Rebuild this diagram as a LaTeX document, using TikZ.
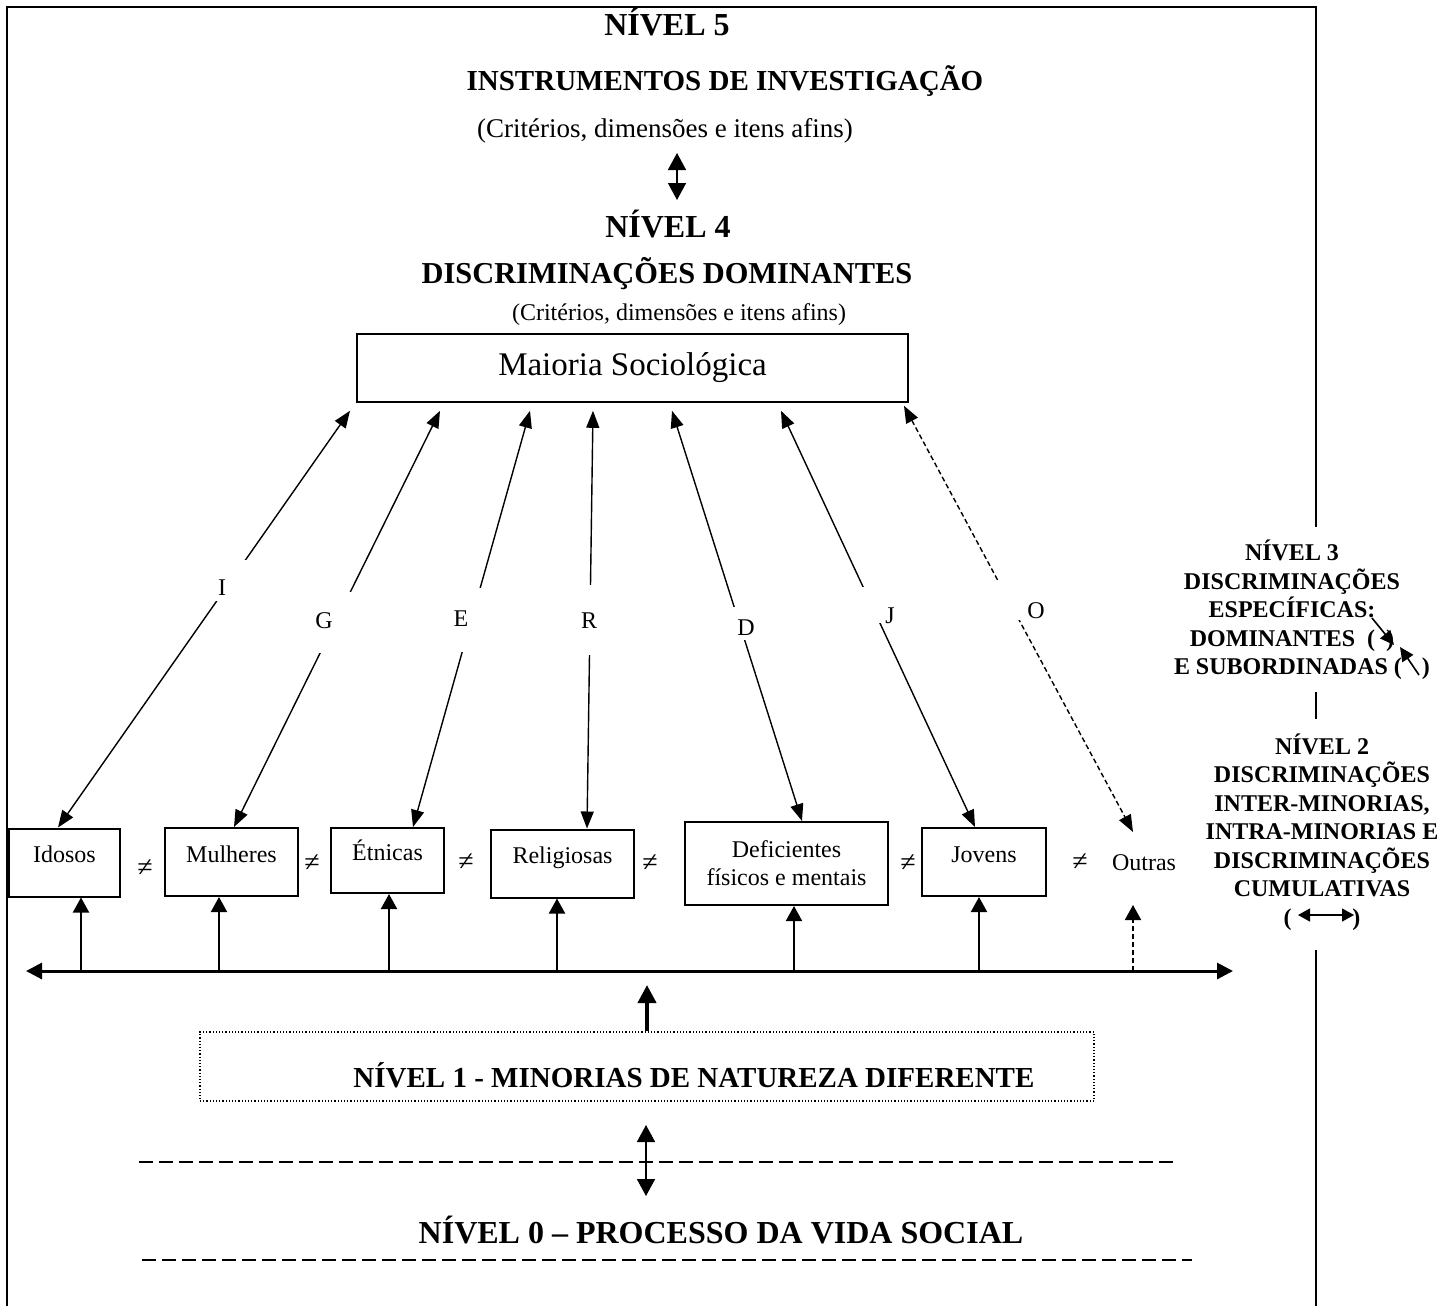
\documentclass[tikz,border=0pt]{standalone}
\usepackage{fontspec}
\setmainfont{Liberation Serif}
\usetikzlibrary{arrows.meta, positioning}

\begin{document}
\begin{tikzpicture}[
    x=0.5pt, y=-0.5pt,
    frame/.style={line width=1.3pt},
    heading/.style={font=\bfseries\fontsize{14.5}{17}\selectfont, inner sep=0pt, anchor=base},
    level/.style={heading, font=\bfseries\fontsize{16}{19}\selectfont},
    remark/.style={font=\fontsize{12}{14}\selectfont, inner sep=0pt, anchor=base},
    minority/.style={draw, line width=1pt, inner sep=0pt, font=\fontsize{12}{14}\selectfont},
    single/.style={minority, text height=17pt, text depth=17pt},
    neq/.style={font=\fontsize{14}{16}\selectfont, inner sep=0pt},
    letter/.style={fill=white, inner sep=0pt, minimum width=40pt, anchor=base, font=\fontsize{12}{14}\selectfont},
    link/.style={<->, >={Triangle[length=8.5pt, width=6.5pt]}, line width=0.7pt},
    link_dash/.style={link, dash pattern=on 2.5pt off 1.5pt},
    feed/.style={->, >={Triangle[length=7.5pt, width=8pt]}, line width=1pt},
    axis/.style={<->, >={Triangle[length=8pt, width=8pt]}, line width=1.5pt},
    updown/.style={<->, >={Triangle[length=8.5pt, width=9pt]}, line width=0.8pt},
    bigarrow/.style={->, >={Triangle[length=9pt, width=9pt]}, line width=2pt},
    rule/.style={line width=1pt, dash pattern=on 7pt off 3pt},
    side/.style={font=\bfseries\fontsize{12}{14.25}\selectfont, align=center, inner sep=0pt},
    mini_arrow/.style={->, >={Triangle[length=7pt, width=6.5pt]}, line width=0.8pt},
    cum_arrow/.style={<->, >={Triangle[length=6pt, width=6.5pt]}, line width=0.6pt}
]
    \useasboundingbox (0,0) rectangle (1446,1306);

    % Frame
    \draw[frame] (7,1306) -- (7,7) -- (1316,7) -- (1316,527);
    \draw[frame] (1316,692) -- (1316,719);
    \draw[frame] (1316,950) -- (1316,1306);

    % Levels 5 and 4
    \node[level] (n5) at (667,35) {NÍVEL 5};
    \node[heading] (inst) at (725,90) {INSTRUMENTOS DE INVESTIGAÇÃO};
    \node[remark, font=\fontsize{13.5}{16}\selectfont] (critA) at (665,137) {(Critérios, dimensões e itens afins)};
    \coordinate (up5) at (677,153);
    \coordinate (dn4) at (677,200);
    \draw[updown] (up5) -- (dn4);
    \node[level] (n4) at (668,237) {NÍVEL 4};
    \node[heading, font=\bfseries\fontsize{15.2}{18}\selectfont] (dom) at (667,283) {DISCRIMINAÇÕES DOMINANTES};
    \node[remark] (critB) at (679,320) {(Critérios, dimensões e itens afins)};

    \node[draw, line width=0.8pt, minimum width=275.5pt, minimum height=34pt, inner sep=0pt,
          font=\fontsize{16.5}{19}\selectfont] (maioria) at (632.5,368) {Maioria Sociológica};

    % Minorities
    \node[single, minimum width=55.5pt] (idosos) at (64.5,862.5) {Idosos};
    \node[single, minimum width=66.5pt] (mulheres) at (231.5,862) {Mulheres};
    \node[single, minimum width=56.5pt, text height=16.25pt, text depth=16.25pt] (etnicas) at (387.5,860.5) {Étnicas};
    \node[single, minimum width=71.5pt] (religiosas) at (562.5,863.5) {Religiosas};
    \node[minority, minimum width=101.5pt, minimum height=41.5pt, align=center] (deficientes) at (786.5,863.5) {Deficientes\\físicos e mentais};
    \node[single, minimum width=62pt] (jovens) at (984,862) {Jovens};
    \node[single, draw=none, minimum width=32pt] (outras) at (1144,870) {Outras};

    \node[neq] (ne1) at (145,868) {≠};
    \node[neq] (ne2) at (312,863) {≠};
    \node[neq] (ne3) at (466,862) {≠};
    \node[neq] (ne4) at (650,863) {≠};
    \node[neq] (ne5) at (908,863) {≠};
    \node[neq] (ne6) at (1080,862) {≠};

    % Specific discriminations
    \draw[link] ([xshift=-141.25pt, yshift=-4pt]maioria.south) -- ([xshift=-3.25pt]idosos.north);
    \draw[link] ([xshift=-96.25pt, yshift=-4pt]maioria.south) -- ([xshift=1.25pt]mulheres.north);
    \draw[link] ([xshift=-51.25pt, yshift=-4pt]maioria.south) -- ([xshift=12.75pt]etnicas.north);
    \draw[link] ([xshift=-19.75pt, yshift=-4pt]maioria.south) -- ([xshift=12.25pt]religiosas.north);
    \draw[link] ([xshift=19.75pt, yshift=-4pt]maioria.south) -- ([xshift=7.75pt]deficientes.north);
    \draw[link] ([xshift=74.25pt, yshift=-4pt]maioria.south) -- ([xshift=-4.5pt]jovens.north);
    \draw[link_dash] ([xshift=135.75pt, yshift=-1.5pt]maioria.south) -- ([xshift=-5.5pt, yshift=1.5pt]outras.north);

    \node[letter, text height=17.5pt, text depth=3pt] (lI) at (222,595) {I};
    \node[letter, text height=18pt, text depth=12.5pt] (lG) at (324,628) {G};
    \node[letter, text height=19pt, text depth=13pt] (lE) at (461,626) {E};
    \node[letter, text height=21.5pt, text depth=13.5pt] (lR) at (589,628) {R};
    \node[letter, text height=14pt, text depth=2.5pt] (lD) at (746,635) {D};
    \node[letter, text height=18pt, text depth=0pt] (lJ) at (890,623) {J};
    \node[letter, text height=18pt, text depth=1pt] (lO) at (1036,618) {O};

    % Axis of level 1
    \coordinate (axisL) at (26,971);
    \coordinate (axisR) at (1233,971);
    \draw[axis] (axisL) -- (axisR);
    \draw[feed] ([xshift=8.25pt]idosos.south |- axisL) -- ([xshift=8.25pt]idosos.south);
    \draw[feed] ([xshift=-6.25pt]mulheres.south |- axisL) -- ([xshift=-6.25pt]mulheres.south);
    \draw[feed] ([xshift=0.75pt]etnicas.south |- axisL) -- ([xshift=0.75pt]etnicas.south);
    \draw[feed] ([xshift=-2.75pt]religiosas.south |- axisL) -- ([xshift=-2.75pt]religiosas.south);
    \draw[feed] ([xshift=3.75pt]deficientes.south |- axisL) -- ([xshift=3.75pt]deficientes.south);
    \draw[feed] ([xshift=-2.5pt]jovens.south |- axisL) -- ([xshift=-2.5pt]jovens.south);
    \draw[feed, dash pattern=on 2.5pt off 1.5pt] ([xshift=-5.5pt]outras.south |- axisL) -- ([xshift=-5.5pt]outras.south);

    % Level 1
    \node[draw, densely dotted, line width=0.6pt, minimum width=447pt, minimum height=34.5pt, inner sep=0pt] (nivel1) at (647,1066.5) {};
    \node[heading] (nivel1txt) at (694,1087) {NÍVEL 1 - MINORIAS DE NATUREZA DIFERENTE};
    \coordinate (risetip) at (647,985);
    \draw[bigarrow] (nivel1.north) -- (risetip);

    % Level 0
    \draw[rule] (139,1162) -- (1177,1162);
    \coordinate (l1) at (646,1125);
    \coordinate (l0) at (646,1196);
    \draw[updown] (l1) -- (l0);
    \node[level] (nivel0) at (721,1243) {NÍVEL 0 – PROCESSO DA VIDA SOCIAL};
    \draw[rule] (142,1260) -- (1192,1260);

    % Side notes
    \node[side] (nivel3) at (1292,610) {NÍVEL 3\\DISCRIMINAÇÕES\\ESPECÍFICAS:\\DOMINANTES\ \ (\hspace{5.5pt})\\\hspace*{10pt}E SUBORDINADAS (\hspace{10pt})};
    \coordinate (domA) at (1372,618);
    \coordinate (domB) at (1394,645);
    \coordinate (subA) at (1419,675);
    \coordinate (subB) at (1400,647);
    \draw[mini_arrow] (domA) -- (domB);
    \draw[mini_arrow] (subA) -- (subB);

    \node[side] (nivel2) at (1322,832) {NÍVEL 2\\DISCRIMINAÇÕES\\INTER-MINORIAS,\\INTRA-MINORIAS E\\DISCRIMINAÇÕES\\CUMULATIVAS\\(\hspace{30.5pt})};
    \coordinate (cumL) at (1298,915);
    \coordinate (cumR) at (1354,915);
    \draw[cum_arrow] (cumL) -- (cumR);
\end{tikzpicture}
\end{document}
